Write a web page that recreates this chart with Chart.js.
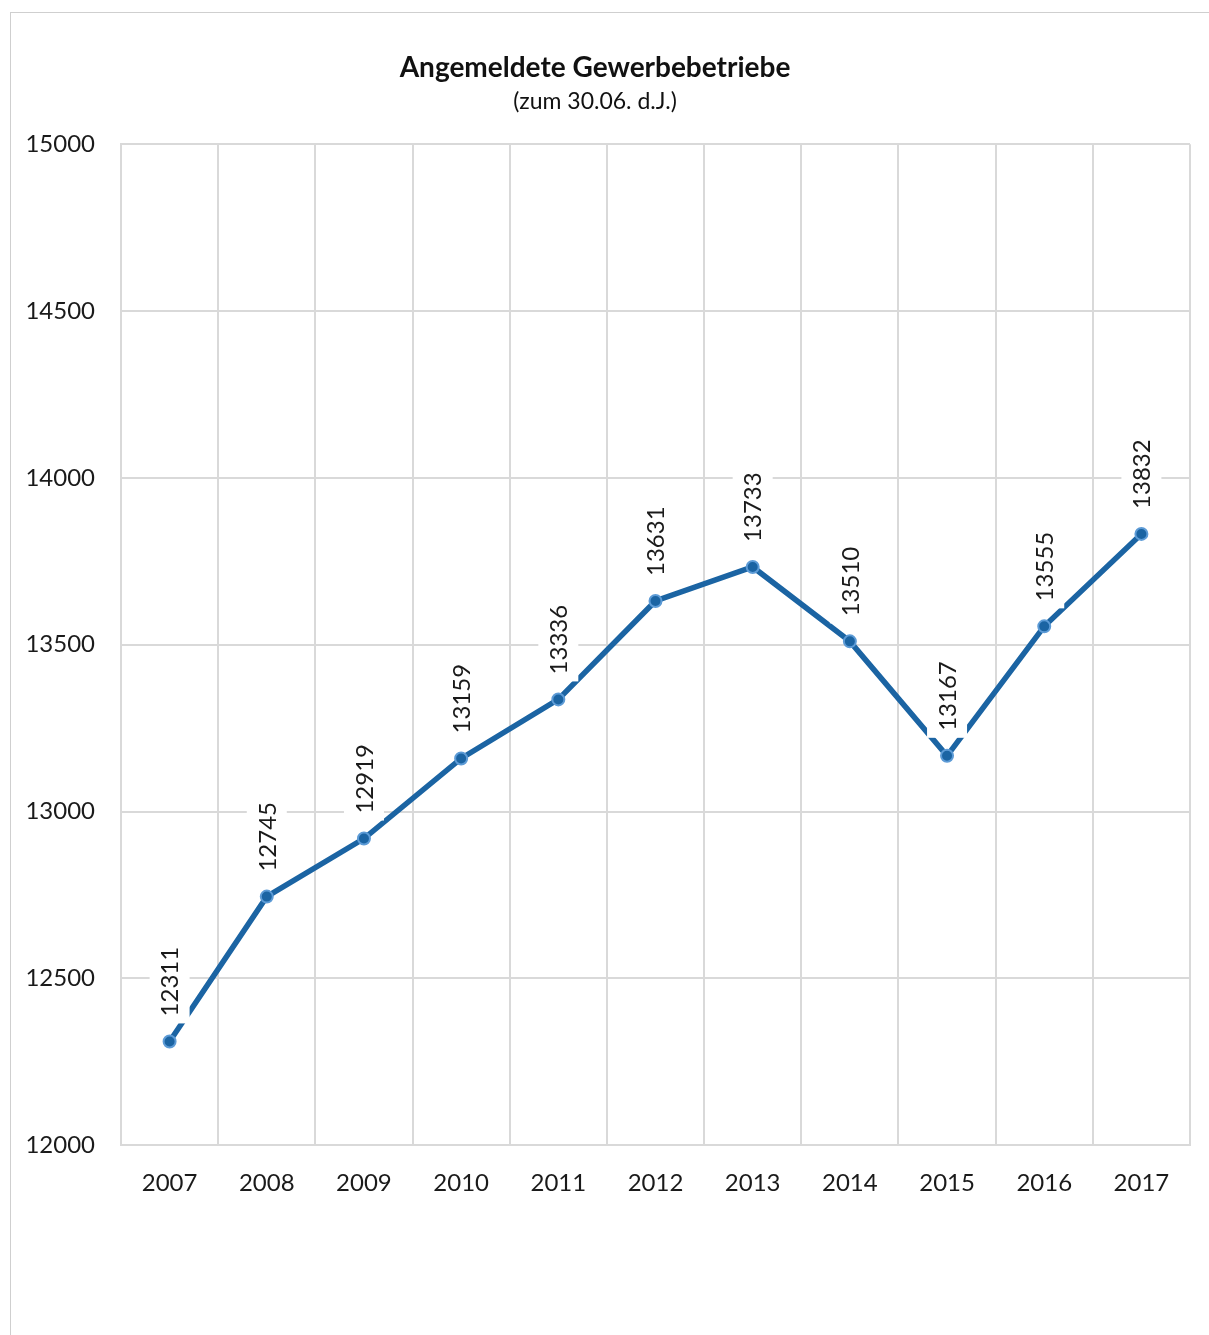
<!DOCTYPE html>
<html>
<head>
<meta charset="utf-8">
<script src="https://cdn.jsdelivr.net/npm/chart.js@4"></script>
<style>
    html, body { margin: 0; padding: 0; background: #fff; }
    #wrap { position: relative; width: 1209px; height: 1335px; }
    #frame {
        position: absolute; left: 10px; top: 12px; right: -2px; bottom: -2px;
        border-left: 1px solid #cfcfcf; border-top: 1px solid #cfcfcf;
    }
    canvas { position: absolute; left: 0; top: 0; }
</style>
</head>
<body>
<div id="wrap">
    <div id="frame"></div>
    <canvas id="chart" width="1209" height="1335"></canvas>
</div>
<script>
// Data
const years = ["2007", "2008", "2009", "2010", "2011", "2012", "2013", "2014", "2015", "2016", "2017"];
const betriebe = [12311, 12745, 12919, 13159, 13336, 13631, 13733, 13510, 13167, 13555, 13832];
const yMin = 12000;
const yMax = 15000;
const yStep = 500;

const FONT = "Lato, 'Open Sans', sans-serif";

// Rotated value labels with white box, drawn over the line
const valueLabels = {
    id: "valueLabels",
    afterDatasetsDraw(chart) {
        const ctx = chart.ctx;
        const meta = chart.getDatasetMeta(0);
        ctx.save();
        ctx.font = "24px " + FONT;
        meta.data.forEach((pt, i) => {
            const text = String(chart.data.datasets[0].data[i]);
            const w = ctx.measureText(text).width;
            ctx.save();
            ctx.translate(pt.x, pt.y - 25);
            ctx.rotate(-Math.PI / 2);
            ctx.fillStyle = "#ffffff";
            ctx.fillRect(-7, -20, w + 12, 40);
            ctx.fillStyle = "#1a1a1a";
            ctx.textAlign = "left";
            ctx.textBaseline = "middle";
            ctx.fillText(text, 0, 1);
            ctx.restore();
        });
        ctx.restore();
    }
};

new Chart(document.getElementById("chart"), {
    type: "line",
    data: {
        labels: years,
        datasets: [{
            data: betriebe,
            borderColor: "#1b64a3",
            borderWidth: 5.5,
            pointRadius: 6,
            pointBackgroundColor: "#1b64a3",
            pointBorderColor: "#5d9bd6",
            pointBorderWidth: 2,
            tension: 0
        }]
    },
    plugins: [valueLabels],
    options: {
        responsive: false,
        animation: false,
        layout: {
            padding: { top: 0, left: 0, right: 19, bottom: 113 }
        },
        plugins: {
            legend: { display: false },
            tooltip: { enabled: false },
            title: {
                display: true,
                text: "Angemeldete Gewerbebetriebe",
                color: "#111",
                font: { family: FONT, size: 28, weight: "bold", lineHeight: 1.2 },
                padding: { top: 51, bottom: 2 }
            },
            subtitle: {
                display: true,
                text: "(zum 30.06. d.J.)",
                color: "#111",
                font: { family: FONT, size: 23, lineHeight: 1.2 },
                padding: { top: 1, bottom: 29 }
            }
        },
        scales: {
            x: {
                offset: true,
                grid: {
                    offset: true,
                    color: "#d9d9d9",
                    lineWidth: 2,
                    drawTicks: false
                },
                border: { color: "#d9d9d9", width: 2 },
                ticks: {
                    color: "#1a1a1a",
                    padding: 24,
                    font: { family: FONT, size: 24 }
                }
            },
            y: {
                min: yMin,
                max: yMax,
                afterFit: (scale) => { scale.width = 121; },
                grid: {
                    color: "#d9d9d9",
                    lineWidth: 2,
                    drawTicks: false
                },
                border: { color: "#d9d9d9", width: 2 },
                ticks: {
                    stepSize: yStep,
                    color: "#1a1a1a",
                    padding: 26,
                    font: { family: FONT, size: 24 },
                    callback: (v) => String(v)
                }
            }
        }
    }
});
</script>
</body>
</html>
